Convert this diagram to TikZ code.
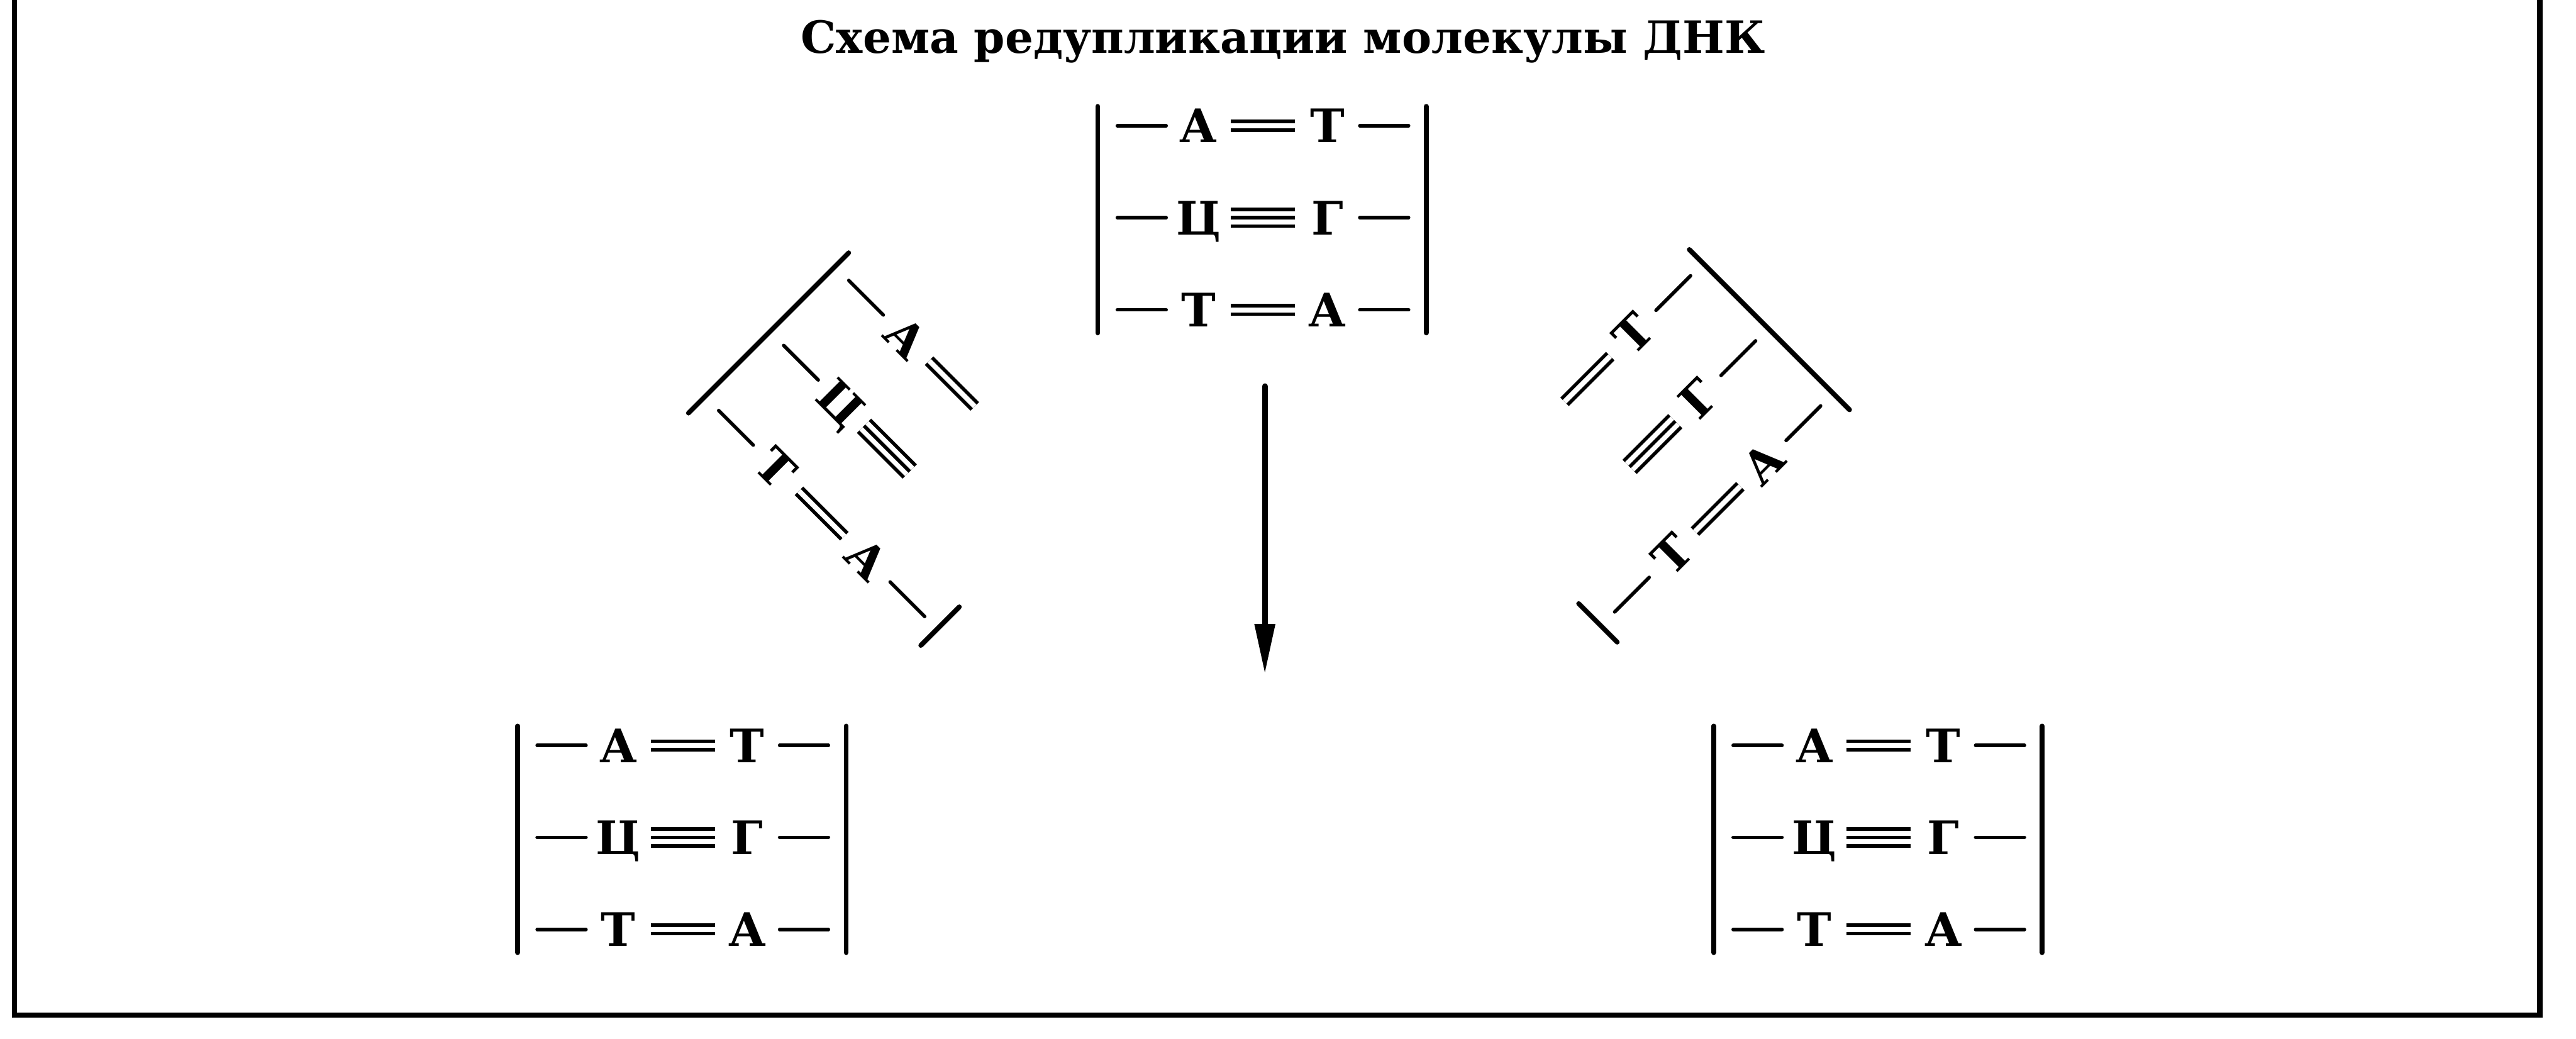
\documentclass[tikz,border=0pt]{standalone}
\usepackage{fontspec}
\setmainfont{DejaVu Serif}
\usetikzlibrary{arrows.meta}

\begin{document}
\begin{tikzpicture}[line cap=round,
  base/.style={inner sep=0pt, minimum width=10.2mm, text height=5.4mm, text depth=0pt,
    font=\fontsize{21}{25}\selectfont\bfseries},
  bar/.style={line width=2.2pt},
  bond/.style={line width=1.6pt},
  duo/.style={bond, line cap=butt, double, double distance=0.8mm},
  trio/.style={bond, line cap=butt,
    preaction={draw, line width=1.6pt, line cap=butt, double, double distance=2.1mm}},
  arr/.style={-{Triangle[length=8mm, width=3.1mm]}, line width=2.6pt}]
\fill[white] (0,0) rectangle (41.16,16.60);
\useasboundingbox (0,0) rectangle (41.16,16.60);
% frame, open at the top
\draw[line width=2.4pt] (0.23,16.60) -- (0.23,0.38) -- (40.58,0.38) -- (40.58,16.60);
\node[anchor=base, font=\fontsize{20.2}{24}\selectfont\bfseries] (title) at (20.50,15.75)
  {Схема редупликации молекулы ДНК};

% parent molecule and the two copies
\foreach \nm/\x/\y in {top/17.54/14.90, bl/8.27/5.00, br/27.38/5.00}{
  \begin{scope}[shift={(\x,\y)}]
    \draw[bar] (0,0) -- (0,-3.62);
    \draw[bar] (5.25,0) -- (5.25,-3.62);
    \foreach \yy/\pl/\pr/\bt [count=\i] in {-0.31/А/Т/duo, -1.78/Ц/Г/trio, -3.25/Т/А/duo}{
      \node[base] (\nm-l\i) at (1.61,\yy) {\pl};
      \node[base] (\nm-r\i) at (3.67,\yy) {\pr};
      \draw[\bt] (\nm-l\i.east) -- (\nm-r\i.west);
      \draw[bond] (\nm-l\i.west) -- ++(-0.78,0);
      \draw[bond] (\nm-r\i.east) -- ++(0.78,0);
    }
  \end{scope}
}

% left strand, turned away
\begin{scope}[shift={(13.56,12.56)}, rotate=-45, transform shape]
  \draw[bar] (0,0) -- (0,-3.62);
  \foreach \yy/\pl/\bt [count=\i] in {-0.31/А/duo, -1.78/Ц/trio}{
    \node[base] (lt-l\i) at (1.61,\yy) {\pl};
    \coordinate (lt-e\i) at (3.16,\yy);
    \draw[bond] (lt-l\i.west) -- ++(-0.78,0);
    \draw[\bt] (lt-l\i.east) -- (lt-e\i);
  }
  \node[base] (lt-l3) at (1.61,-3.25) {Т};
  \node[base] (lt-r3) at (3.67,-3.25) {А};
  \draw[bond] (lt-l3.west) -- ++(-0.78,0);
  \draw[duo] (lt-l3.east) -- (lt-r3.west);
  \draw[bond] (lt-r3.east) -- ++(0.78,0);
  \draw[bar] (5.25,-2.75) -- (5.25,-3.62);
\end{scope}

% right strand, turned away
\begin{scope}[shift={(23.28,8.90)}, rotate=45, transform shape]
  \draw[bar] (5.25,0) -- (5.25,-3.62);
  \foreach \yy/\pr/\bt [count=\i] in {-0.31/Т/duo, -1.78/Г/trio}{
    \node[base] (rt-r\i) at (3.67,\yy) {\pr};
    \coordinate (rt-s\i) at (2.12,\yy);
    \draw[\bt] (rt-s\i) -- (rt-r\i.west);
    \draw[bond] (rt-r\i.east) -- ++(0.78,0);
  }
  \node[base] (rt-l3) at (1.61,-3.25) {Т};
  \node[base] (rt-r3) at (3.67,-3.25) {А};
  \draw[bond] (rt-l3.west) -- ++(-0.78,0);
  \draw[duo] (rt-l3.east) -- (rt-r3.west);
  \draw[bond] (rt-r3.east) -- ++(0.78,0);
  \draw[bar] (0,-2.75) -- (0,-3.62);
\end{scope}

\coordinate (fork) at (20.21,10.43);
\coordinate (copies) at (20.21,5.83);
\draw[arr] (fork) -- (copies);
\end{tikzpicture}
\end{document}
